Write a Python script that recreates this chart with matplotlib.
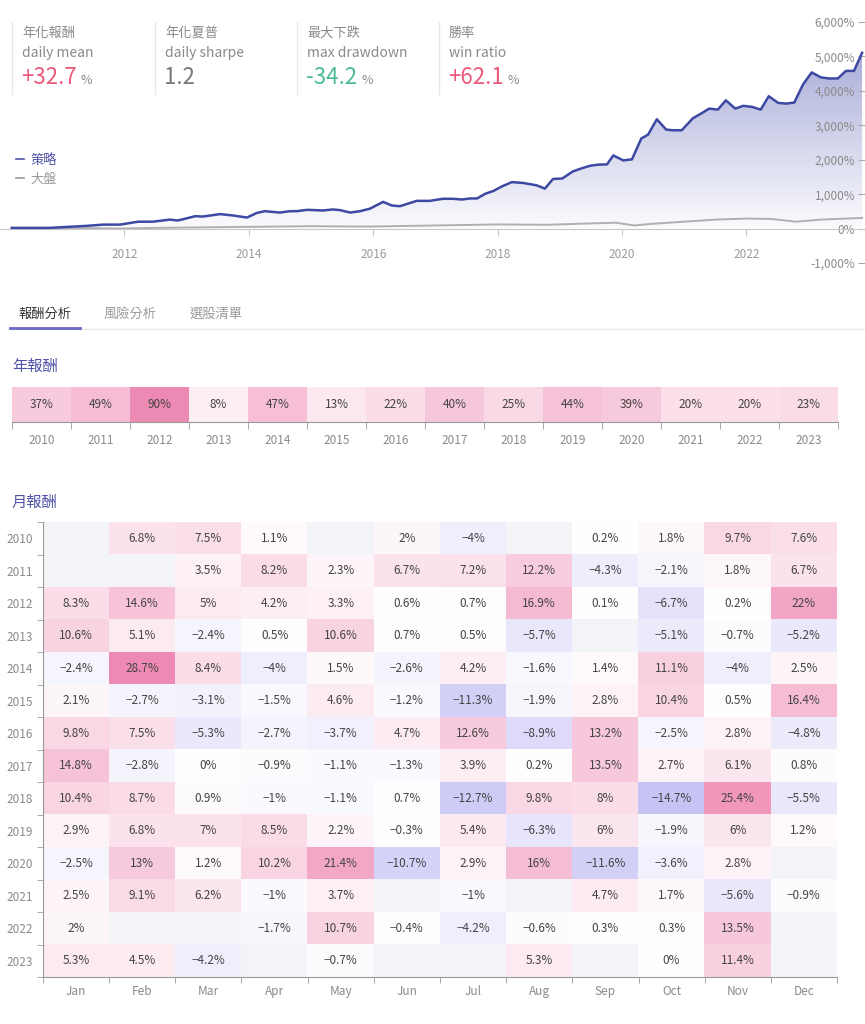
import numpy as np
import matplotlib
matplotlib.use('Agg')
import matplotlib.pyplot as plt
from matplotlib.colors import LinearSegmentedColormap
from matplotlib.lines import Line2D
from matplotlib.ticker import FuncFormatter

plt.rcParams['font.family'] = ['Noto Sans CJK TC', 'DejaVu Sans']

# ---- data ----
# cumulative return of the strategy (%)
strat_t = [2010.19, 2010.80, 2011.40, 2011.66, 2011.93, 2012.22, 2012.46, 2012.73, 2012.86,
           2013.14, 2013.26, 2013.54, 2013.75, 2013.97, 2014.13, 2014.26, 2014.50, 2014.66,
           2014.77, 2014.94, 2015.19, 2015.35, 2015.47, 2015.63, 2015.79, 2015.95, 2016.16,
           2016.30, 2016.43, 2016.70, 2016.91, 2017.12, 2017.28, 2017.43, 2017.56, 2017.67,
           2017.80, 2017.93, 2018.07, 2018.23, 2018.41, 2018.63, 2018.76, 2018.89, 2019.04,
           2019.21, 2019.36, 2019.49, 2019.61, 2019.76, 2019.86, 2020.02, 2020.16, 2020.31,
           2020.42, 2020.56, 2020.71, 2020.82, 2020.96, 2021.14, 2021.29, 2021.40, 2021.54,
           2021.67, 2021.82, 2021.95, 2022.09, 2022.23, 2022.36, 2022.51, 2022.64, 2022.77,
           2022.91, 2023.05, 2023.20, 2023.33, 2023.47, 2023.60, 2023.73, 2023.86]
strat_v = [20, 20, 80, 115, 115, 200, 200, 260, 235,
           360, 350, 420, 380, 320, 455, 505, 465, 505,
           505, 545, 525, 555, 535, 465, 505, 580, 775,
           670, 650, 805, 805, 865, 865, 845, 875, 875,
           1010, 1090, 1225, 1350, 1325, 1255, 1160, 1440, 1455,
           1660, 1755, 1825, 1855, 1865, 2125, 1980, 2010, 2615,
           2730, 3175, 2875, 2855, 2855, 3205, 3360, 3485, 3455,
           3725, 3485, 3565, 3535, 3455, 3845, 3650, 3630, 3660,
           4185, 4535, 4390, 4360, 4360, 4580, 4580, 5105]

# benchmark (大盤) cumulative return (%)
bench_t = [2010.19, 2010.80, 2011.40, 2011.93, 2012.50, 2013.00, 2014.00, 2015.00, 2015.70,
           2016.00, 2017.00, 2018.00, 2018.80, 2019.50, 2019.90, 2020.20, 2020.50, 2021.00,
           2021.50, 2022.00, 2022.40, 2022.80, 2023.20, 2023.86]
bench_v = [0, 5, 15, 0, 20, 30, 50, 70, 60,
           60, 90, 120, 110, 150, 170, 90, 140, 200,
           260, 290, 280, 200, 260, 310]

stat_zh = ['年化報酬', '年化夏普', '最大下跌', '勝率']
stat_en = ['daily mean', 'daily sharpe', 'max drawdown', 'win ratio']
stat_val = ['+32.7', '1.2', '-34.2', '+62.1']
stat_unit = ['%', '', '%', '%']

years = ['2010', '2011', '2012', '2013', '2014', '2015', '2016',
         '2017', '2018', '2019', '2020', '2021', '2022', '2023']
yearly = [37, 49, 90, 8, 47, 13, 22, 40, 25, 44, 39, 20, 20, 23]

months = ['Jan', 'Feb', 'Mar', 'Apr', 'May', 'Jun',
          'Jul', 'Aug', 'Sep', 'Oct', 'Nov', 'Dec']
nan = np.nan
monthly = np.array([
    [nan, 6.8, 7.5, 1.1, nan, 2, -4, nan, 0.2, 1.8, 9.7, 7.6],
    [nan, nan, 3.5, 8.2, 2.3, 6.7, 7.2, 12.2, -4.3, -2.1, 1.8, 6.7],
    [8.3, 14.6, 5, 4.2, 3.3, 0.6, 0.7, 16.9, 0.1, -6.7, 0.2, 22],
    [10.6, 5.1, -2.4, 0.5, 10.6, 0.7, 0.5, -5.7, nan, -5.1, -0.7, -5.2],
    [-2.4, 28.7, 8.4, -4, 1.5, -2.6, 4.2, -1.6, 1.4, 11.1, -4, 2.5],
    [2.1, -2.7, -3.1, -1.5, 4.6, -1.2, -11.3, -1.9, 2.8, 10.4, 0.5, 16.4],
    [9.8, 7.5, -5.3, -2.7, -3.7, 4.7, 12.6, -8.9, 13.2, -2.5, 2.8, -4.8],
    [14.8, -2.8, 0, -0.9, -1.1, -1.3, 3.9, 0.2, 13.5, 2.7, 6.1, 0.8],
    [10.4, 8.7, 0.9, -1, -1.1, 0.7, -12.7, 9.8, 8, -14.7, 25.4, -5.5],
    [2.9, 6.8, 7, 8.5, 2.2, -0.3, 5.4, -6.3, 6, -1.9, 6, 1.2],
    [-2.5, 13, 1.2, 10.2, 21.4, -10.7, 2.9, 16, -11.6, -3.6, 2.8, nan],
    [2.5, 9.1, 6.2, -1, 3.7, nan, -1, nan, 4.7, 1.7, -5.6, -0.9],
    [2, nan, nan, -1.7, 10.7, -0.4, -4.2, -0.6, 0.3, 0.3, 13.5, nan],
    [5.3, 4.5, -4.2, nan, -0.7, nan, nan, 5.3, nan, 0, 11.4, nan],
])

# ---- layout helpers (pixel coords, origin top-left) ----
W, H = 865, 1024
fig = plt.figure(figsize=(W / 100, H / 100), dpi=100)


def box(l, t, r, b):
    return [l / W, 1 - b / H, (r - l) / W, (b - t) / H]


def fx(x):
    return x / W


def fy(y):
    return 1 - y / H


PURPLE = '#4f52a6'

# ---- top stats ----
renderer = fig.canvas.get_renderer()
val_colors = ['#ec5a7b', '#777777', '#4cbb95', '#ec5a7b']
for i, x0 in enumerate([12, 155, 297, 439]):
    fig.add_artist(Line2D([fx(x0), fx(x0)], [fy(22), fy(94)], color='#e8e8e8', lw=1))
    fig.text(fx(x0 + 10), fy(33), stat_zh[i], fontsize=9.5, color='#8a8a8a', va='center')
    fig.text(fx(x0 + 10), fy(53), stat_en[i], fontsize=10, color='#8a8a8a', va='center')
    t = fig.text(fx(x0 + 9), fy(78), stat_val[i], fontsize=16, color=val_colors[i], va='center')
    if stat_unit[i]:
        bb = t.get_window_extent(renderer)
        fig.text((bb.x1 + 4) / W, fy(81), stat_unit[i], fontsize=9, color='#8a8a8a', va='center')

# ---- cumulative return chart ----
ax = fig.add_axes(box(0, 22, 865, 263))
fill_cmap = LinearSegmentedColormap.from_list('fill', ['#fbfbfe', '#a9add8'])
poly = ax.fill_between(strat_t, 0, strat_v, color='none', lw=0)
grad = ax.imshow(np.linspace(0, 1, 256)[:, None], extent=(strat_t[0], strat_t[-1], 0, 5200),
                 origin='lower', aspect='auto', cmap=fill_cmap, zorder=1)
grad.set_clip_path(poly.get_paths()[0], transform=ax.transData)
ax.plot(bench_t, bench_v, color='#b0b0b0', lw=1.4, zorder=2)
ax.plot(strat_t, strat_v, color='#3d49a2', lw=1.8, zorder=3)
ax.set_xlim(2010, 2010 + 865 / 62.2)
ax.set_ylim(-1000, 6000)
ax.patch.set_alpha(0)
for s in ['top', 'left', 'right']:
    ax.spines[s].set_visible(False)
ax.spines['bottom'].set_position(('data', 0))
ax.spines['bottom'].set_color('#c8c8c8')
ax.set_xticks([2012, 2014, 2016, 2018, 2020, 2022])
ax.tick_params(axis='x', length=5, color='#c8c8c8', labelcolor='#9a9a9a', labelsize=8.5, pad=9)
ax.yaxis.tick_right()
ax.set_yticks(range(-1000, 7000, 1000))
ax.yaxis.set_major_formatter(FuncFormatter(lambda v, p: f'{v:,.0f}%'))
ax.tick_params(axis='y', direction='in', length=5, color='#aaaaaa', labelcolor='#8a8a8a',
               labelsize=8.5, pad=-7)
for lab in ax.get_yticklabels():
    lab.set_ha('right')

handles = [Line2D([], [], color=PURPLE, lw=1.2), Line2D([], [], color='#9a9a9a', lw=1.2)]
ax.legend(handles, ['策略', '大盤'], loc='upper left', bbox_to_anchor=(fx(4), fy(142)),
          bbox_transform=fig.transFigure, frameon=False, handlelength=0.6, handletextpad=0.5,
          labelspacing=0.45, fontsize=9.5, labelcolor=[PURPLE, '#9a9a9a'])

# ---- tabs ----
fig.text(fx(45), fy(314), '報酬分析', fontsize=9.5, color='#333333', ha='center', va='center')
fig.text(fx(130), fy(314), '風險分析', fontsize=9.5, color='#9a9a9a', ha='center', va='center')
fig.text(fx(216), fy(314), '選股清單', fontsize=9.5, color='#9a9a9a', ha='center', va='center')
fig.add_artist(Line2D([fx(8), fx(865)], [fy(328.5), fy(328.5)], color='#e8e8e8', lw=1))
fig.add_artist(Line2D([fx(10), fx(80)], [fy(328), fy(328)], color='#6a68c8', lw=2))

# ---- yearly returns ----
fig.text(fx(12), fy(366), '年報酬', fontsize=11, color=PURPLE, va='center')
ay = fig.add_axes(box(12, 387, 838, 422))
yr_cmap = LinearSegmentedColormap.from_list('yr', ['#fff8fb', '#ec7fac'])
ay.imshow(np.array([yearly]), cmap=yr_cmap, vmin=0, vmax=100, aspect='auto')
for i, v in enumerate(yearly):
    ay.text(i, 0, f'{v}%', ha='center', va='center', fontsize=8.5, color='#444444')
ay.set_xticks(range(len(years)))
ay.set_xticklabels(years)
ay.set_xticks(np.arange(-0.5, len(years), 1), minor=True)
ay.set_yticks([])
ay.tick_params(axis='x', which='major', length=0, pad=9, labelsize=8.5, labelcolor='#8a8a8a')
ay.tick_params(axis='x', which='minor', length=5, color='#999999')
for s in ['top', 'left', 'right']:
    ay.spines[s].set_visible(False)
ay.spines['bottom'].set_color('#999999')

# ---- monthly returns ----
fig.text(fx(12), fy(502), '月報酬', fontsize=11, color=PURPLE, va='center')
am = fig.add_axes(box(43, 522, 837, 977))
mo_cmap = LinearSegmentedColormap.from_list('mo', ['#8d86ec', '#ffffff', '#ee85b0']).with_extremes(bad='#f3f4f8')
am.imshow(np.ma.masked_invalid(monthly), cmap=mo_cmap, vmin=-30, vmax=30, aspect='auto')
for r in range(monthly.shape[0]):
    for c in range(monthly.shape[1]):
        v = monthly[r, c]
        if np.isnan(v):
            continue
        am.text(c, r, f'{v:g}%'.replace('-', '\u2212'), ha='center', va='center',
                fontsize=8.5, color='#444444')
am.set_xticks(range(12))
am.set_xticklabels(months)
am.set_yticks(range(len(years)))
am.set_yticklabels(years)
am.set_xticks(np.arange(-0.5, 12, 1), minor=True)
am.set_yticks(np.arange(-0.5, len(years), 1), minor=True)
am.tick_params(which='major', length=0, labelsize=8.5, labelcolor='#8a8a8a')
am.tick_params(axis='x', which='major', pad=6)
am.tick_params(axis='y', which='major', pad=7)
am.tick_params(which='minor', length=4, color='#999999')
for s in ['top', 'right']:
    am.spines[s].set_visible(False)
am.spines['bottom'].set_color('#999999')
am.spines['left'].set_color('#999999')

fig.savefig('out.png', dpi=100)
